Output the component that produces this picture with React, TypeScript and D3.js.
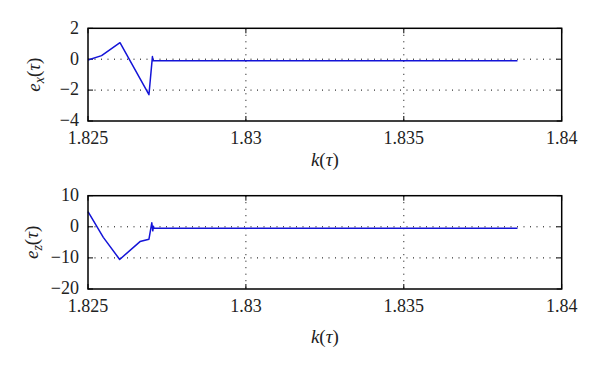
import React from "react";
import * as d3 from "d3";

const xTicks = [1.825, 1.83, 1.835, 1.84];
const xTickLabels = ["1.825", "1.83", "1.835", "1.84"];

const exK = [1.825, 1.82543, 1.826013, 1.82693, 1.82704, 1.82706, 1.8275, 1.8386];
const exV = [-0.05, 0.23, 1.07, -2.3, 0.17, -0.1, -0.1, -0.1];
const exTicks = [2, 0, -2, -4];

const ezK = [1.825, 1.825485, 1.826003, 1.826647, 1.82693, 1.82702, 1.827052, 1.827071, 1.82709, 1.8275, 1.8386];
const ezV = [4.9, -3.4, -10.5, -4.75, -4.0, 1.3, -1.3, 0.2, -0.5, -0.5, -0.5];
const ezTicks = [10, 0, -10, -20];

const W = 600;
const H = 367;
const left = 88;
const right = 561.7;
const font = "Liberation Serif";

type PanelProps = {
  top: number;
  bottom: number;
  xs: number[];
  ys: number[];
  yTicks: number[];
  yDomain: [number, number];
  sub: string;
  xlabOffset: number;
  ylabX: number;
};

function Panel({ top, bottom, xs, ys, yTicks, yDomain, sub, xlabOffset, ylabX }: PanelProps) {
  const x = d3.scaleLinear().domain([1.825, 1.84]).range([left, right]);
  const y = d3.scaleLinear().domain(yDomain).range([bottom, top]);
  const pts: [number, number][] = xs.map((k, i) => [k, ys[i]]);
  const line = d3
    .line<[number, number]>()
    .x((d) => x(d[0]))
    .y((d) => y(d[1]));
  const tickLen = 5;
  const midY = (top + bottom) / 2;
  return (
    <g>
      {xTicks.slice(1, -1).map((t) => (
        <line key={"gx" + t} x1={x(t)} x2={x(t)} y1={top} y2={bottom} stroke="#000" strokeWidth={1} strokeDasharray="1,5.5" />
      ))}
      {yTicks.slice(1, -1).map((t) => (
        <line key={"gy" + t} x1={left} x2={right} y1={y(t)} y2={y(t)} stroke="#000" strokeWidth={1} strokeDasharray="1,5.5" />
      ))}
      {xTicks.map((t, i) => (
        <g key={"tx" + t}>
          <line x1={x(t)} x2={x(t)} y1={bottom} y2={bottom - tickLen} stroke="#000" strokeWidth={1} />
          <line x1={x(t)} x2={x(t)} y1={top} y2={top + tickLen} stroke="#000" strokeWidth={1} />
          <text x={x(t)} y={bottom + 17} dy="0.35em" textAnchor="middle" fontFamily={font} fontSize={18} fill="#222">
            {xTickLabels[i]}
          </text>
        </g>
      ))}
      {yTicks.map((t) => (
        <g key={"ty" + t}>
          <line x1={left} x2={left + tickLen} y1={y(t)} y2={y(t)} stroke="#000" strokeWidth={1} />
          <line x1={right} x2={right - tickLen} y1={y(t)} y2={y(t)} stroke="#000" strokeWidth={1} />
          <text x={left - 9} y={y(t) - 1} dy="0.35em" textAnchor="end" fontFamily={font} fontSize={18} fill="#222">
            {t < 0 ? "\u2212" + Math.abs(t) : String(t)}
          </text>
        </g>
      ))}
      <path d={line(pts) || ""} fill="none" stroke="#1414d8" strokeWidth={1.5} strokeLinejoin="round" />
      <rect x={left} y={top} width={right - left} height={bottom - top} fill="none" stroke="#000" strokeWidth={1.5} />
      <text
        transform={`translate(${ylabX},${midY}) rotate(-90)`}
        textAnchor="middle"
        fontFamily={font}
        fontSize={19}
        fill="#222"
      >
        <tspan fontStyle="italic">e</tspan>
        <tspan fontStyle="italic" fontSize={14} dy="4">{sub}</tspan>
        <tspan dy="-4">(</tspan>
        <tspan fontStyle="italic">τ</tspan>
        <tspan>)</tspan>
      </text>
      <text x={(left + right) / 2} y={bottom + xlabOffset} dy="0.35em" textAnchor="middle" fontFamily={font} fontSize={19} fill="#222">
        <tspan fontStyle="italic">k</tspan>
        <tspan>(</tspan>
        <tspan fontStyle="italic">τ</tspan>
        <tspan>)</tspan>
      </text>
    </g>
  );
}

export default function App() {
  return (
    <svg width={W} height={H} style={{ position: "absolute", left: 0, top: 0, background: "#fff" }}>
      <rect width={W} height={H} fill="#fff" />
      <Panel top={28.3} bottom={121} xs={exK} ys={exV} yTicks={exTicks} yDomain={[-4, 2]} sub="x" xlabOffset={38} ylabX={40} />
      <Panel top={195.7} bottom={289} xs={ezK} ys={ezV} yTicks={ezTicks} yDomain={[-20, 10]} sub="z" xlabOffset={47.5} ylabX={38} />
    </svg>
  );
}
